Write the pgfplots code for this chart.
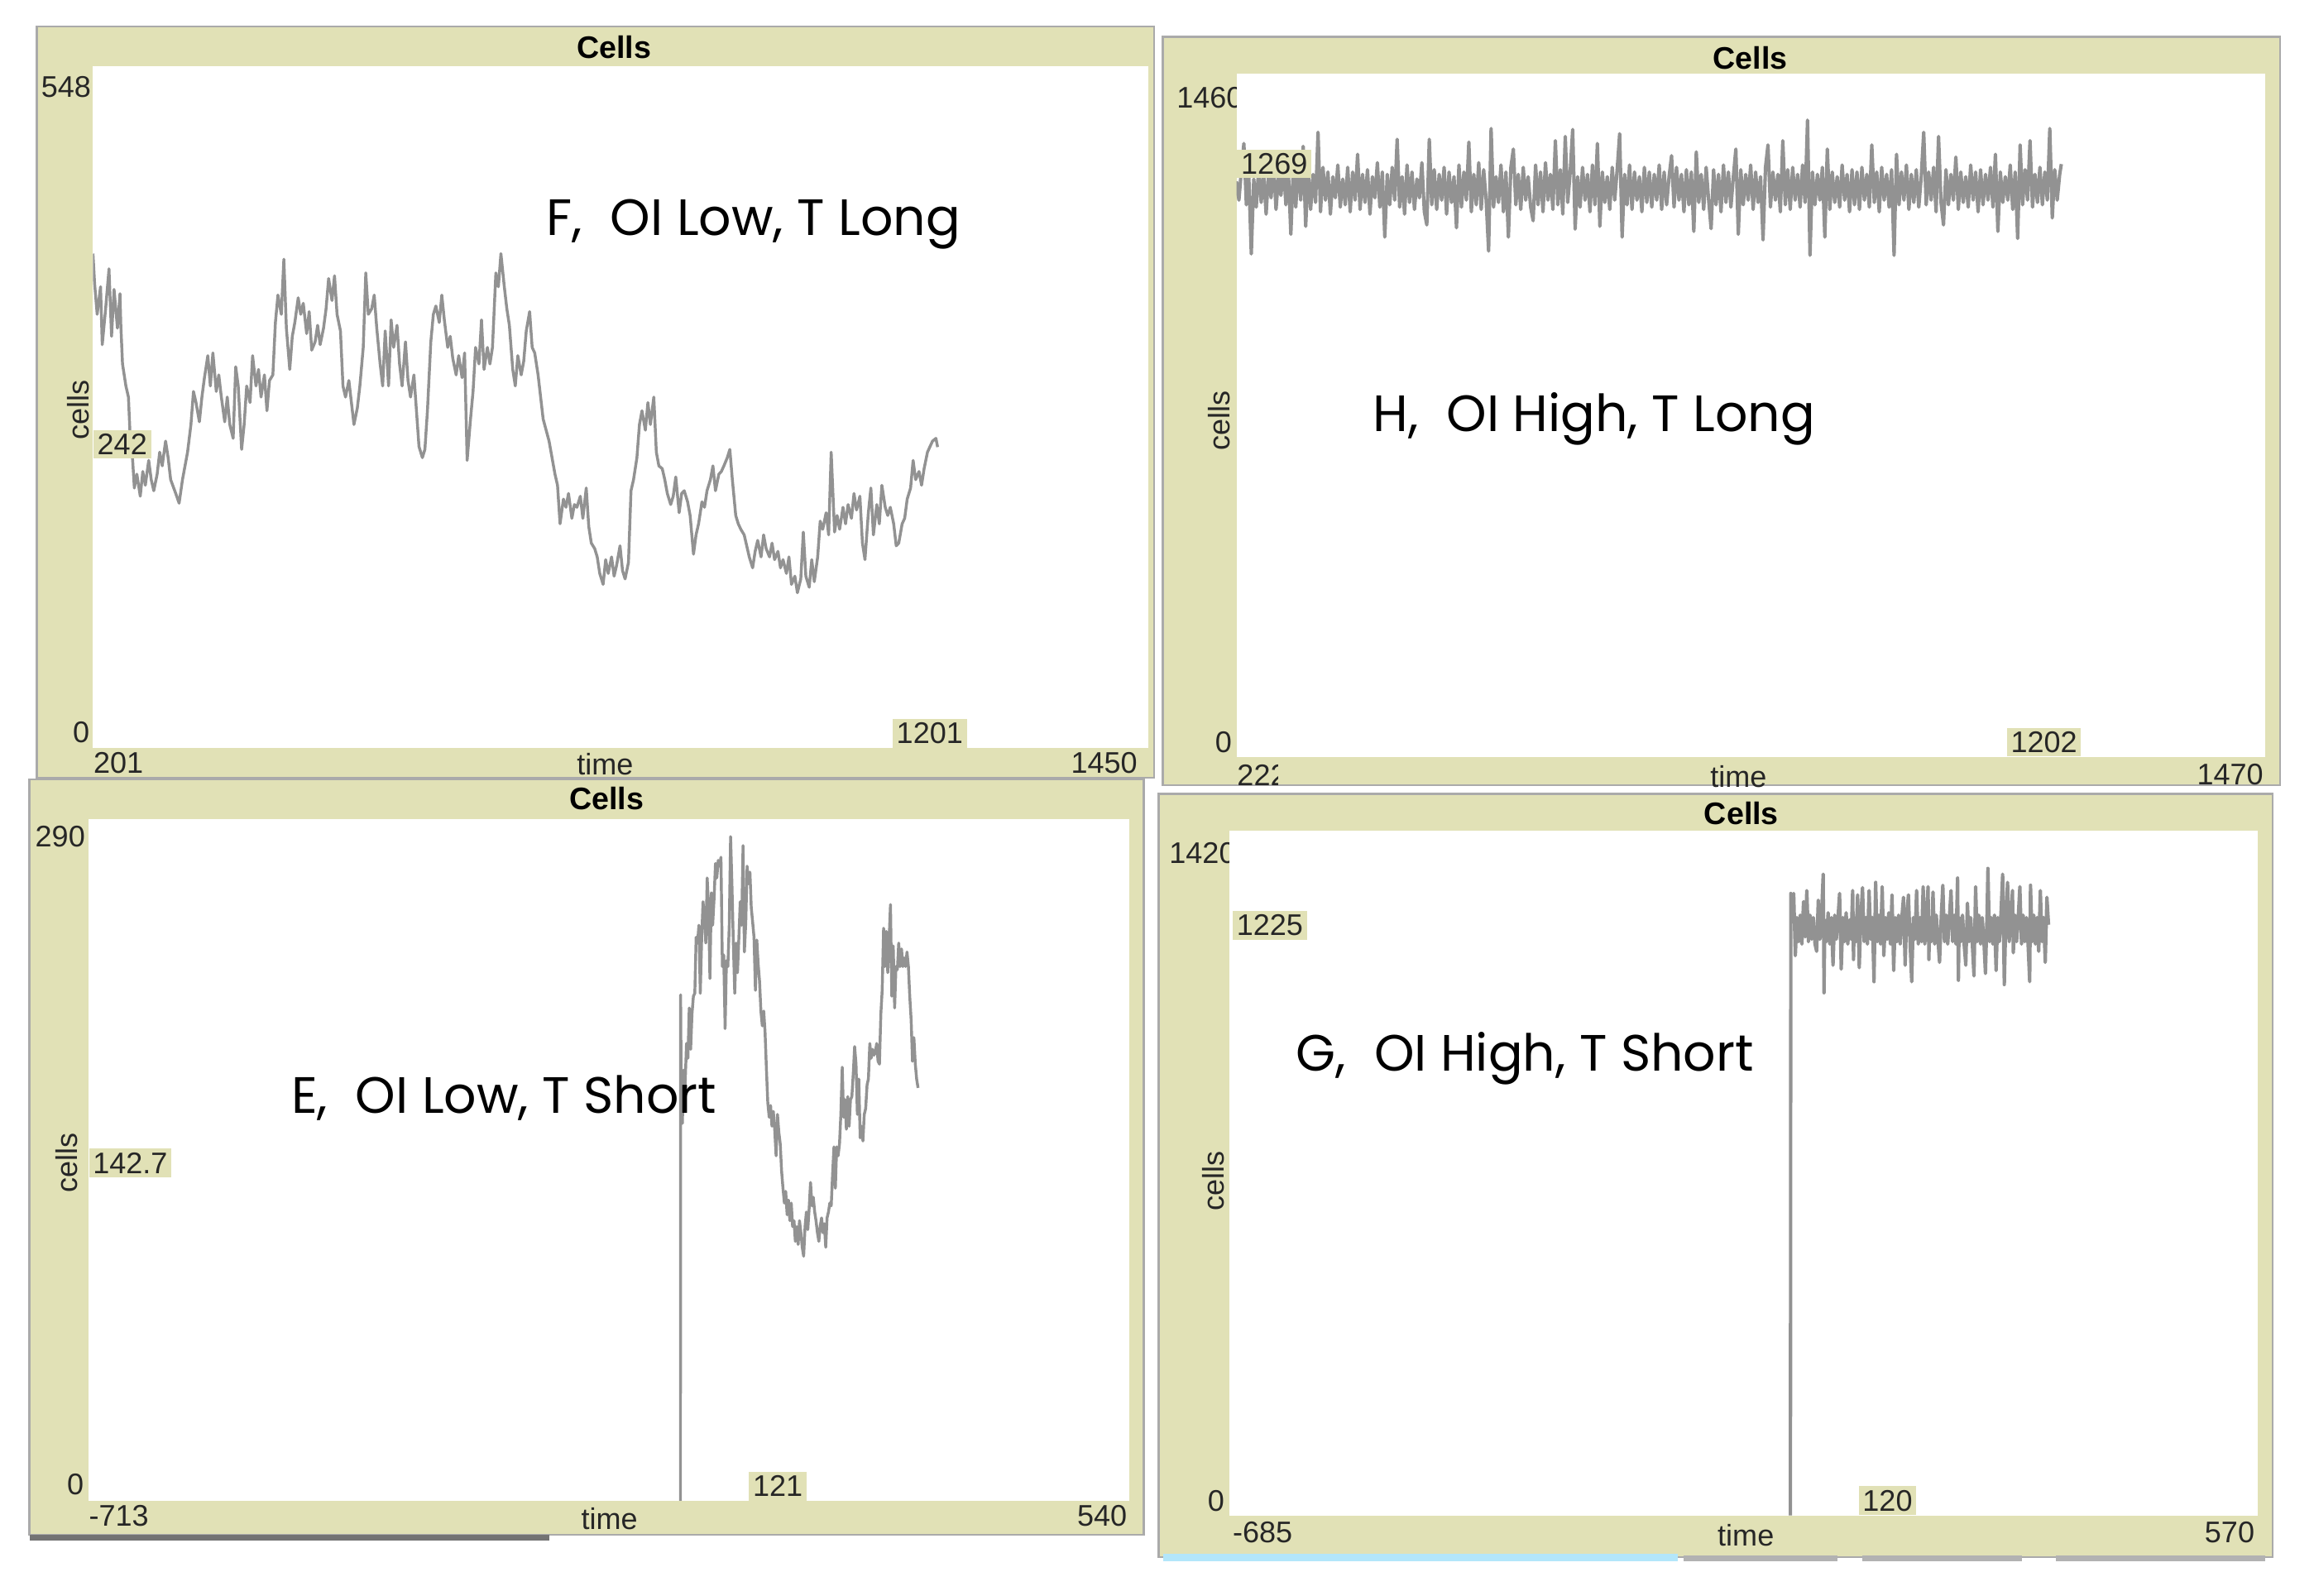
\documentclass[border=0pt]{standalone}
\usepackage{pgfplots}
\pgfplotsset{compat=1.18}
\usepackage{fontspec}
\setmainfont{Liberation Sans}
\newfontfamily\capfont{Poppins}
\definecolor{khaki}{RGB}{225,225,182}
\definecolor{trace}{RGB}{146,146,146}
\definecolor{framegray}{RGB}{170,170,170}

\tikzset{
  num/.style={font=\fontsize{11.5}{11.5}\selectfont, inner sep=0pt, text=black!85},
  hdr/.style={font=\bfseries\fontsize{12}{12}\selectfont, inner sep=0pt},
  runlabel/.style={font=\capfont\fontsize{19.7}{19.7}\selectfont, inner sep=0pt, anchor=west},
  val/.style={num, fill=khaki, inner sep=1.5pt},
}
\pgfplotsset{
  cellplot/.style={scale only axis, hide axis, anchor=south west},
  tr/.style={color=trace, line width=1.1pt, line join=round, mark=none},
}

\begin{document}
\begin{tikzpicture}
% ---- frames, headers and axis labels (units: 1 = 0.02cm)
\begin{scope}[x=0.02cm,y=-0.02cm]
\fill[white] (0,0) rectangle (1568,1081);
% F
\fill[khaki] (25,18) rectangle (782,527);
\draw[framegray, line width=0.8pt] (25,18) rectangle (782,527);
\node[hdr] at (416,32) {Cells};
\node[num, anchor=east] at (62,59) {548};
\node[num, anchor=east] at (61,496) {0};
\node[num, anchor=west] at (63,517) {201};
\node[num, anchor=east] at (771,517) {1450};
\node[num] at (410,518) {time};
\node[num, rotate=90] at (53,278) {cells};
\fill[white] (63,45) rectangle (778,507);
% H
\fill[khaki] (788,25) rectangle (1545,532);
\draw[framegray, line width=0.8pt] (788,25) rectangle (1545,532);
\node[hdr] at (1186,39) {Cells};
\node[num, anchor=west] at (797,66) {1460};
\node[num, anchor=east] at (835,503) {0};
\begin{scope}
\clip (836,514) rectangle (866,536);
\node[num, anchor=west] at (838,525) {222};
\end{scope}
\node[num, anchor=east] at (1534,525) {1470};
\node[num] at (1178,526) {time};
\node[num, rotate=90] at (826,285) {cells};
\fill[white] (838,50) rectangle (1535,513);
% E
\fill[khaki] (20,528) rectangle (775,1040);
\draw[framegray, line width=0.8pt] (20,528) rectangle (775,1040);
\fill[black!55] (20,1040) rectangle (372,1044);
\node[hdr] at (411,541) {Cells};
\node[num, anchor=east] at (58,567) {290};
\node[num, anchor=east] at (57,1006) {0};
\node[num, anchor=west] at (60,1027) {-713};
\node[num, anchor=east] at (764,1027) {540};
\node[num] at (413,1029) {time};
\node[num, rotate=90] at (45,788) {cells};
\fill[white] (60,555) rectangle (765,1017);
% G
\fill[khaki] (785,538) rectangle (1540,1055);
\draw[framegray, line width=0.8pt] (785,538) rectangle (1540,1055);
\fill[cyan!30] (788,1053) rectangle (1137,1058);
\fill[black!30] (1141,1054) rectangle (1245,1058);
\fill[black!30] (1262,1054) rectangle (1370,1058);
\fill[black!30] (1393,1054) rectangle (1535,1058);
\node[hdr] at (1180,551) {Cells};
\node[num, anchor=west] at (792,578) {1420};
\node[num, anchor=east] at (830,1017) {0};
\node[num, anchor=west] at (835,1038) {-685};
\node[num, anchor=east] at (1528,1038) {570};
\node[num] at (1183,1040) {time};
\node[num, rotate=90] at (822,800) {cells};
\fill[white] (833,563) rectangle (1530,1027);
\end{scope}

% ---- F, OI Low, T Long
\begin{axis}[cellplot, at={(1.26cm,-10.14cm)}, width=14.30cm, height=9.24cm,
  xmin=201, xmax=1450, ymin=0, ymax=548]
\addplot[tr] coordinates {
(201,397.5)(203,373.1)(206,348.7)(210,370.9)(212,324.3)(216,353.2)(220,385.3)(223,331.0)(226,368.7)(230,337.6)
(233,365.3)(234,339.9)(236,308.8)(240,291.1)(243,282.2)(245,251.2)(248,231.3)(250,209.1)(253,220.2)(257,202.5)
(260,222.4)(263,211.3)(267,231.3)(270,215.8)(273,206.9)(277,220.2)(280,237.9)(283,226.9)(287,246.8)(290,233.5)
(293,215.8)(299,204.7)(303,196.9)(307,215.8)(313,237.9)(317,260.1)(320,286.7)(323,277.8)(327,262.3)(330,282.2)
(333,297.8)(337,315.5)(340,291.1)(343,317.7)(347,286.7)(350,300.0)(353,282.2)(357,262.3)(360,282.2)(363,260.1)
(367,249.0)(370,306.6)(373,291.1)(377,240.1)(380,260.1)(383,291.1)(387,277.8)(390,315.5)(394,291.1)(397,304.4)
(400,282.2)(404,300.0)(407,271.2)(410,295.5)(414,300.0)(417,342.1)(420,364.2)(424,348.7)(427,393.0)(430,337.6)
(434,304.4)(437,331.0)(440,342.1)(444,362.0)(447,348.7)(450,357.6)(454,333.2)(457,350.9)(460,319.9)(464,326.6)
(467,339.9)(470,324.3)(474,337.6)(477,353.2)(480,377.5)(484,359.8)(487,379.7)(490,348.7)(494,335.4)(497,291.1)
(500,282.2)(504,295.5)(507,277.8)(510,260.1)(514,273.4)(517,291.1)(521,322.1)(524,382.0)(527,348.7)(531,353.2)
(534,364.2)(537,337.6)(541,308.8)(544,291.1)(547,335.4)(551,291.1)(554,344.3)(557,322.1)(561,339.9)(564,308.8)
(567,291.1)(571,326.6)(574,295.5)(577,282.2)(581,300.0)(584,271.2)(587,242.4)(591,233.5)(594,240.1)(597,271.2)
(601,326.6)(604,348.7)(607,355.4)(611,342.1)(614,364.2)(617,344.3)(621,322.1)(624,331.0)(627,313.3)(631,300.0)
(634,315.5)(638,297.8)(641,317.7)(644,231.3)(648,264.5)(651,286.7)(654,322.1)(658,308.8)(661,344.3)(664,304.4)
(668,322.1)(671,308.8)(674,322.1)(678,382.0)(681,370.9)(684,397.5)(688,370.9)(691,353.2)(694,339.9)(698,304.4)
(701,291.1)(704,315.5)(708,300.0)(711,311.0)(714,335.4)(718,350.9)(721,322.1)(724,317.7)(728,300.0)(731,282.2)
(734,264.5)(741,246.8)(748,220.2)(751,211.3)(754,180.3)(758,200.2)(761,193.6)(764,204.7)(768,184.7)(771,195.8)
(774,193.6)(778,202.5)(781,184.7)(785,209.1)(788,178.1)(791,164.8)(795,160.4)(798,153.7)(801,140.4)(805,131.6)
(808,151.5)(811,140.4)(815,153.7)(818,138.2)(821,147.1)(825,162.6)(828,142.6)(831,136.0)(835,149.3)(838,206.9)
(841,215.8)(845,233.5)(848,260.1)(851,271.2)(855,255.6)(858,277.8)(861,260.1)(865,282.2)(868,237.9)(871,226.9)
(875,224.6)(878,215.8)(881,204.7)(885,195.8)(888,202.5)(891,218.0)(895,189.2)(898,204.7)(901,206.9)(905,198.0)
(908,187.0)(912,155.9)(915,171.4)(918,180.3)(922,198.0)(925,193.6)(928,206.9)(932,215.8)(935,226.9)(938,206.9)
(942,220.2)(945,222.4)(948,226.9)(952,233.5)(955,240.1)(958,215.8)(962,187.0)(965,180.3)(968,175.9)(972,171.4)
(975,162.6)(978,153.7)(982,144.9)(985,158.2)(988,167.0)(992,153.7)(995,171.4)(998,160.4)(1002,153.7)(1005,164.8)
(1008,151.5)(1012,158.2)(1015,144.9)(1018,151.5)(1022,140.4)(1025,153.7)(1028,131.6)(1032,138.2)(1035,124.9)(1039,136.0)
(1042,173.7)(1045,138.2)(1049,129.3)(1052,151.5)(1055,133.8)(1059,153.7)(1062,182.5)(1065,175.9)(1069,189.2)(1072,171.4)
(1075,237.9)(1079,173.7)(1082,187.0)(1085,175.9)(1089,193.6)(1092,180.3)(1095,195.8)(1099,184.7)(1102,204.7)(1105,191.4)
(1109,202.5)(1112,164.8)(1115,151.5)(1119,189.2)(1122,209.1)(1125,171.4)(1129,195.8)(1132,180.3)(1135,211.3)(1139,193.6)
(1142,187.0)(1145,193.6)(1149,180.3)(1152,162.6)(1155,164.8)(1159,180.3)(1162,184.7)(1165,200.2)(1169,209.1)(1172,231.3)
(1175,215.8)(1179,222.4)(1182,211.3)(1185,224.6)(1189,237.9)(1192,242.4)(1195,246.8)(1199,249.0)(1201,242.0)
};
\end{axis}

% ---- H, OI High, T Long
\begin{axis}[cellplot, at={(16.76cm,-10.26cm)}, width=13.94cm, height=9.26cm,
  xmin=222, xmax=1470, ymin=0, ymax=1460]
\addplot[tr, line width=1.3pt] coordinates {
(222,1230)(225,1190)(228,1255)(231,1311)(234,1180)(237,1240)(240,1075)(243,1235)(246,1175)(249,1260)
(252,1185)(255,1245)(258,1160)(261,1250)(264,1195)(267,1270)(270,1170)(273,1240)(276,1200)(279,1265)
(282,1180)(285,1250)(288,1117)(291,1260)(294,1175)(297,1270)(300,1190)(303,1305)(306,1134)(309,1255)
(312,1170)(315,1245)(318,1185)(321,1335)(324,1165)(327,1260)(330,1190)(333,1250)(336,1160)(339,1240)
(342,1195)(345,1265)(348,1175)(351,1235)(354,1180)(357,1260)(360,1165)(363,1250)(366,1190)(369,1288)
(372,1170)(375,1245)(378,1185)(381,1255)(384,1160)(387,1240)(390,1195)(393,1270)(396,1175)(399,1250)
(402,1111)(405,1245)(408,1180)(411,1260)(414,1190)(417,1320)(420,1175)(423,1240)(426,1160)(429,1265)
(432,1185)(435,1250)(438,1170)(441,1235)(444,1195)(447,1270)(450,1165)(453,1137)(456,1320)(459,1180)
(462,1255)(465,1170)(468,1245)(471,1190)(474,1260)(477,1160)(480,1250)(483,1185)(486,1240)(489,1131)
(492,1265)(495,1175)(498,1250)(501,1190)(504,1314)(507,1165)(510,1245)(513,1180)(516,1270)(519,1170)
(522,1255)(525,1190)(528,1081)(531,1343)(534,1175)(537,1240)(540,1185)(543,1265)(546,1165)(549,1250)
(552,1111)(555,1260)(558,1299)(561,1180)(564,1245)(567,1170)(570,1260)(573,1190)(576,1240)(579,1175)
(582,1146)(585,1265)(588,1180)(591,1250)(594,1165)(597,1270)(600,1190)(603,1245)(606,1170)(609,1317)
(612,1180)(615,1255)(618,1160)(621,1326)(624,1185)(627,1250)(630,1341)(633,1128)(636,1240)(639,1175)
(642,1260)(645,1190)(648,1245)(651,1165)(654,1265)(657,1180)(660,1311)(663,1134)(666,1250)(669,1185)
(672,1240)(675,1170)(678,1260)(681,1190)(684,1255)(687,1332)(690,1111)(693,1245)(696,1180)(699,1265)
(702,1170)(705,1250)(708,1190)(711,1240)(714,1165)(717,1260)(720,1185)(723,1250)(726,1175)(729,1245)
(732,1190)(735,1265)(738,1170)(741,1250)(744,1180)(747,1240)(750,1285)(753,1175)(756,1260)(759,1190)
(762,1245)(765,1165)(768,1255)(771,1180)(774,1250)(777,1123)(780,1293)(783,1185)(786,1245)(789,1170)
(792,1260)(795,1190)(798,1129)(801,1255)(804,1180)(807,1245)(810,1165)(813,1265)(816,1185)(819,1250)
(822,1175)(825,1240)(828,1299)(831,1117)(834,1255)(837,1180)(840,1245)(843,1190)(846,1265)(849,1170)
(852,1250)(855,1185)(858,1240)(861,1105)(864,1260)(867,1308)(870,1175)(873,1250)(876,1190)(879,1245)
(882,1165)(885,1317)(888,1180)(891,1255)(894,1170)(897,1260)(900,1190)(903,1245)(906,1175)(909,1265)
(912,1185)(915,1361)(918,1072)(921,1250)(924,1180)(927,1245)(930,1190)(933,1260)(936,1111)(939,1299)
(942,1170)(945,1250)(948,1185)(951,1240)(954,1175)(957,1265)(960,1190)(963,1245)(966,1165)(969,1255)
(972,1180)(975,1250)(978,1170)(981,1260)(984,1190)(987,1245)(990,1175)(993,1308)(996,1185)(999,1250)
(1002,1165)(1005,1260)(1008,1190)(1011,1245)(1014,1175)(1017,1255)(1020,1072)(1023,1288)(1026,1180)(1029,1250)
(1032,1190)(1035,1265)(1038,1170)(1041,1245)(1044,1185)(1047,1255)(1050,1175)(1053,1240)(1056,1335)(1059,1180)
(1062,1250)(1065,1190)(1068,1260)(1071,1165)(1074,1326)(1077,1185)(1080,1137)(1083,1255)(1086,1180)(1089,1245)
(1092,1190)(1095,1282)(1098,1170)(1101,1250)(1104,1185)(1107,1240)(1110,1175)(1113,1265)(1116,1190)(1119,1250)
(1122,1165)(1125,1255)(1128,1180)(1131,1245)(1134,1190)(1137,1260)(1140,1175)(1143,1288)(1146,1123)(1149,1250)
(1152,1185)(1155,1240)(1158,1190)(1161,1265)(1164,1170)(1167,1250)(1170,1108)(1173,1308)(1176,1180)(1179,1255)
(1182,1190)(1185,1317)(1188,1175)(1191,1245)(1194,1185)(1197,1260)(1200,1180)(1203,1250)(1206,1190)(1209,1343)
(1212,1152)(1215,1255)(1218,1190)(1221,1245)(1223,1267)
};
\end{axis}

% ---- E, OI Low, T Short
\begin{axis}[cellplot, at={(1.20cm,-20.34cm)}, width=14.10cm, height=9.24cm,
  xmin=-713, xmax=540, ymin=0, ymax=290]
\addplot[tr] coordinates {
(0,0)(0.2,215.2)(1.0,170.0)(2.3,160.5)(4.0,183.2)(5.6,176.9)(7.3,194.5)(9.0,188.2)(10.6,209.6)(12.3,192.0)
(13.9,207.1)(15.6,214.6)(17.3,215.8)(18.9,239.7)(20.6,237.2)(22.2,244.8)(23.9,215.8)(25.6,239.7)(27.2,254.8)(28.9,248.5)
(30.5,237.2)(32.2,264.9)(33.9,252.3)(35.5,222.1)(37.2,258.6)(38.8,244.8)(40.5,256.1)(42.2,271.1)(43.8,264.9)(45.5,272.4)
(47.1,269.9)(48.8,273.7)(50.5,227.2)(52.1,232.2)(53.8,200.8)(55.4,229.7)(57.1,227.2)(58.8,244.8)(60.4,282.5)(62.1,261.1)
(63.7,237.2)(65.4,215.8)(67.1,237.2)(68.7,224.6)(70.4,239.7)(72.0,254.8)(73.7,244.8)(75.4,278.7)(77.0,233.4)(78.7,246.0)
(80.3,269.9)(82.0,262.4)(83.7,267.4)(85.3,252.3)(87.0,246.0)(88.6,239.7)(90.3,217.1)(92.0,238.5)(93.6,228.4)(95.3,220.9)
(96.9,208.3)(98.6,202.0)(100.3,208.3)(101.9,199.5)(103.6,183.2)(105.2,169.3)(106.9,163.1)(108.6,168.1)(110.2,159.3)(111.9,165.6)
(113.5,158.0)(115.2,146.7)(116.9,164.3)(118.5,156.8)(120.2,151.8)(121.8,140.4)(123.5,132.9)(125.2,126.6)(126.8,131.6)(128.5,121.6)
(130.1,127.9)(131.8,119.1)(133.5,126.6)(135.1,116.6)(136.8,119.1)(138.4,110.3)(140.1,116.6)(141.8,109.0)(143.4,119.1)(145.1,114.0)
(146.7,107.8)(148.4,104.0)(150.1,116.6)(151.7,122.8)(153.4,115.3)(155.0,124.1)(156.7,135.4)(158.4,125.4)(160.0,129.1)(161.7,122.8)
(163.3,119.1)(165.0,114.0)(166.7,110.3)(168.3,116.6)(170.0,120.3)(171.6,114.0)(173.3,117.8)(175.0,107.8)(176.6,120.3)(178.3,122.8)
(179.9,126.6)(181.6,125.4)(183.3,139.2)(184.9,150.5)(186.6,132.9)(188.2,150.5)(189.9,146.7)(191.6,151.8)(193.2,164.3)(194.9,184.4)
(196.5,163.1)(198.2,170.6)(199.9,158.0)(201.5,171.9)(203.2,159.3)(204.8,170.6)(206.5,171.9)(208.2,181.9)(209.8,193.2)(211.5,185.7)
(213.1,164.3)(214.8,179.4)(216.5,154.3)(218.1,159.3)(219.8,153.0)(221.4,164.3)(223.1,166.8)(224.8,176.9)(226.4,179.4)(228.1,194.5)
(229.7,188.2)(231.4,192.0)(233.1,189.5)(234.7,190.7)(236.4,194.5)(238.0,186.9)(239.7,185.7)(241.4,207.1)(243.0,217.1)(244.7,243.5)
(246.3,227.2)(248.0,242.2)(249.7,224.6)(251.3,238.5)(253.0,253.6)(254.6,214.6)(256.3,236.0)(258.0,209.6)(259.6,227.2)(261.3,225.9)
(262.9,237.2)(264.6,227.2)(266.3,234.7)(267.9,227.2)(269.6,230.9)(271.2,227.2)(272.9,233.4)(274.6,227.2)(276.2,214.6)(277.9,204.5)
(279.5,186.9)(281.2,197.0)(282.9,185.7)(284.5,179.4)(286.2,175.6)
};
\end{axis}

% ---- G, OI High, T Short
\begin{axis}[cellplot, at={(16.66cm,-20.54cm)}, width=13.94cm, height=9.28cm,
  xmin=-685, xmax=570, ymin=0, ymax=1420]
\addplot[tr, line width=1.3pt] coordinates {
(0,0)(0.5,1290)(2,1230)(4,1290)(6,1161)(8,1240)(10,1190)(12,1245)(14,1185)(16,1273)
(18,1200)(20,1296)(22,1190)(24,1245)(26,1195)(28,1240)(30,1185)(32,1170)(34,1276)(36,1195)
(38,1245)(40,1330)(41,1084)(42,1235)(44,1190)(46,1250)(48,1185)(50,1240)(52,1141)(54,1245)
(56,1195)(58,1238)(60,1290)(62,1133)(64,1240)(66,1190)(68,1250)(70,1185)(72,1235)(74,1195)
(76,1296)(77,1153)(78,1240)(80,1190)(82,1287)(84,1136)(86,1245)(88,1302)(90,1190)(92,1240)
(94,1185)(96,1296)(98,1195)(100,1240)(102,1107)(104,1313)(106,1190)(108,1245)(110,1185)(112,1304)
(114,1161)(116,1240)(118,1195)(120,1250)(122,1185)(124,1287)(126,1130)(128,1240)(130,1190)(132,1245)
(134,1185)(136,1240)(138,1282)(140,1141)(142,1245)(144,1287)(146,1190)(148,1107)(150,1240)(152,1195)
(154,1296)(156,1185)(158,1240)(160,1190)(162,1304)(164,1185)(166,1245)(168,1304)(169,1153)(170,1240)
(172,1190)(174,1293)(176,1185)(178,1245)(180,1195)(182,1147)(184,1240)(186,1307)(188,1190)(190,1245)
(192,1185)(194,1240)(196,1296)(198,1190)(200,1245)(202,1185)(204,1322)(205,1110)(206,1240)(208,1190)
(210,1245)(212,1185)(214,1141)(216,1270)(218,1190)(220,1240)(222,1185)(224,1119)(226,1304)(228,1190)
(230,1245)(232,1185)(234,1240)(236,1195)(238,1124)(240,1250)(241,1342)(243,1190)(245,1240)(247,1185)
(249,1245)(251,1130)(253,1240)(255,1190)(257,1250)(259,1330)(261,1101)(263,1245)(265,1313)(267,1190)
(269,1240)(271,1296)(272,1167)(274,1245)(276,1190)(278,1240)(280,1304)(282,1185)(284,1245)(286,1190)
(288,1240)(290,1185)(292,1107)(293,1307)(295,1190)(297,1245)(299,1185)(301,1240)(303,1170)(305,1296)
(307,1190)(309,1240)(311,1147)(313,1282)(315,1225)
};
\end{axis}

% ---- current-value boxes and panel captions
\begin{scope}[x=0.02cm,y=-0.02cm]
\node[val, anchor=west] at (63,301) {242};
\node[val, anchor=south] at (630,507) {1201};
\node[val, anchor=west] at (838,111) {1269};
\node[val, anchor=south] at (1385,513) {1202};
\node[val, anchor=west] at (60,788) {142.7};
\node[val, anchor=south] at (527,1017) {121};
\node[val, anchor=west] at (835,627) {1225};
\node[val, anchor=south] at (1279,1027) {120};
\node[runlabel] at (370,152) {F,\hspace{0.55em}OI Low, T Long};
\node[runlabel] at (930,284) {H,\hspace{0.55em}OI High, T Long};
\node[runlabel] at (197,744) {E,\hspace{0.55em}OI Low, T Short};
\node[runlabel] at (878,717) {G,\hspace{0.55em}OI High, T Short};
\end{scope}
\end{tikzpicture}
\end{document}
